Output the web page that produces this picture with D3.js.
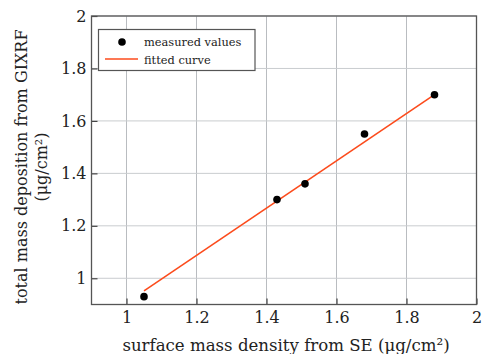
<!DOCTYPE html>
<html>
<head>
<meta charset="utf-8">
<script src="https://cdn.jsdelivr.net/npm/d3@7"></script>
<style>
  html, body { margin: 0; padding: 0; background: #fff; }
  svg { display: block; }
  svg text { font-family: "DejaVu Serif", serif; fill: #222; }
</style>
</head>
<body>
<svg id="chart" width="482" height="354"></svg>
<script>
// Measured points: SE surface mass density vs GIXRF total mass deposition
const seDensity = [1.05, 1.43, 1.51, 1.68, 1.88];
const gixrfMass = [0.93, 1.30, 1.36, 1.55, 1.70];
// Linear fit, evaluated at the ends of the measured range
const fitX = [1.05, 1.88];
const fitY = [0.952, 1.70];
// Axis ticks
const xTicks = [1, 1.2, 1.4, 1.6, 1.8, 2];
const yTicks = [1, 1.2, 1.4, 1.6, 1.8, 2];
const legendItems = ["measured values", "fitted curve"];

const svg = d3.select("#chart");
const margin = { left: 91.5, right: 5.5, top: 16, bottom: 49.5 };
const W = 482, H = 354;
const x = d3.scaleLinear().domain([0.9, 2.0]).range([margin.left, W - margin.right]);
const y = d3.scaleLinear().domain([0.9, 2.0]).range([H - margin.bottom, margin.top]);

const fmt = d => d3.format("")(d);

// Grid lines
const grid = svg.append("g");
grid.selectAll("line.gx").data(xTicks).join("line")
  .attr("x1", d => x(d)).attr("x2", d => x(d))
  .attr("y1", y.range()[0]).attr("y2", y.range()[1])
  .attr("stroke", "#b9bcc0").attr("stroke-width", 1);
grid.selectAll("line.gy").data(yTicks).join("line")
  .attr("y1", d => y(d)).attr("y2", d => y(d))
  .attr("x1", x.range()[0]).attr("x2", x.range()[1])
  .attr("stroke", "#c9cccf").attr("stroke-width", 1);

// Axes with inward ticks
const xAxis = svg.append("g").attr("transform", `translate(0,${y.range()[0]})`)
  .call(d3.axisBottom(x).tickValues(xTicks).tickFormat(fmt).tickSizeInner(-6).tickSizeOuter(0).tickPadding(7.5));
const yAxis = svg.append("g").attr("transform", `translate(${x.range()[0]},0)`)
  .call(d3.axisLeft(y).tickValues(yTicks).tickFormat(fmt).tickSizeInner(-6).tickSizeOuter(0).tickPadding(5));
[xAxis, yAxis].forEach(g => {
  g.attr("font-family", null);
  g.select(".domain").remove();
  g.selectAll(".tick line").attr("stroke", "#444").attr("stroke-width", 1.2);
  g.selectAll(".tick text").attr("font-size", 16).attr("fill", "#222");
});

// Frame
svg.append("rect")
  .attr("x", x.range()[0]).attr("y", y.range()[1])
  .attr("width", x.range()[1] - x.range()[0]).attr("height", y.range()[0] - y.range()[1])
  .attr("fill", "none").attr("stroke", "#555").attr("stroke-width", 1.3);

// Fitted line
const line = d3.line().x(d => x(d[0])).y(d => y(d[1]));
svg.append("path").datum(d3.zip(fitX, fitY))
  .attr("d", line).attr("fill", "none")
  .attr("stroke", "#fc4b1c").attr("stroke-width", 1.6);

// Measured points
svg.append("g").selectAll("circle").data(d3.zip(seDensity, gixrfMass)).join("circle")
  .attr("cx", d => x(d[0])).attr("cy", d => y(d[1])).attr("r", 3.8)
  .attr("fill", "#000");

// Legend
const lg = svg.append("g");
lg.append("rect").attr("x", 98.5).attr("y", 29.5).attr("width", 156.5).attr("height", 41)
  .attr("fill", "#fff").attr("stroke", "#555").attr("stroke-width", 1.2);
lg.append("circle").attr("cx", 122).attr("cy", 42).attr("r", 3.8).attr("fill", "#000");
lg.append("line").attr("x1", 105).attr("x2", 138).attr("y1", 59).attr("y2", 59)
  .attr("stroke", "#fc4b1c").attr("stroke-width", 1.6);
lg.selectAll("text").data(legendItems).join("text")
  .attr("x", 144).attr("y", (d, i) => 46 + i * 18)
  .attr("font-size", 11.4).text(d => d);

// Axis titles
svg.append("text").attr("x", 286).attr("y", 351)
  .attr("text-anchor", "middle").attr("font-size", 16.6)
  .text("surface mass density from SE (μg/cm²)");
const yl = svg.append("text").attr("transform", "translate(27,167) rotate(-90)")
  .attr("text-anchor", "middle").attr("font-size", 16);
yl.append("tspan").attr("x", 0).attr("y", 0).text("total mass deposition from GIXRF");
yl.append("tspan").attr("x", 0).attr("y", 20).text("(μg/cm²)");
</script>
</body>
</html>
